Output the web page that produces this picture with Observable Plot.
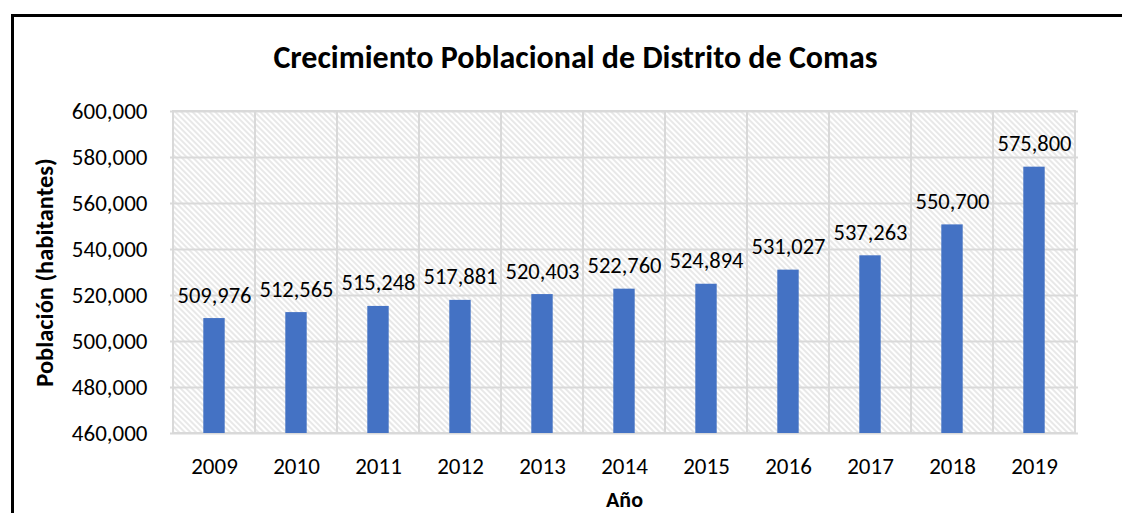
<!DOCTYPE html>
<html>
<head>
<meta charset="utf-8">
<script src="https://cdn.jsdelivr.net/npm/d3@7"></script>
<script src="https://cdn.jsdelivr.net/npm/@observablehq/plot@0.6"></script>
<style>
  html, body { margin: 0; padding: 0; background: #fff; overflow: hidden; }
  #wrap { position: relative; width: 1122px; height: 513px; }
  #border { position: absolute; left: 11px; top: 14px; width: 1200px; height: 600px;
            border-left: 3px solid #000; border-top: 3px solid #000; box-sizing: border-box; pointer-events: none; }
  #chart { position: absolute; left: 0; top: 0; }
</style>
</head>
<body>
<div id="wrap">
  <div id="chart"></div>
  <div id="border"></div>
</div>
<script>
const years = ["2009","2010","2011","2012","2013","2014","2015","2016","2017","2018","2019"];
const population = [509976, 512565, 515248, 517881, 520403, 522760, 524894, 531027, 537263, 550700, 575800];
const yTicks = [460000, 480000, 500000, 520000, 540000, 560000, 580000, 600000];
const titleText = "Crecimiento Poblacional de Distrito de Comas";
const yLabel = "Población (habitantes)";
const xLabel = "Año";

const data = years.map((y, i) => ({year: y, value: population[i]}));
const fmt = d3.format(",");
const font = "Carlito, Calibri, Lato, sans-serif";

const svg = Plot.plot({
  width: 1122,
  height: 513,
  marginLeft: 170,
  marginRight: 44,
  marginTop: 111,
  marginBottom: 80,
  style: {fontFamily: font, fontSize: "23px", color: "#000", background: "transparent"},
  x: {type: "band", domain: years, padding: 0, label: null},
  y: {domain: [yTicks[0], yTicks[yTicks.length - 1]], label: null},
  marks: [
    Plot.cell(years, {x: d => d, fill: "url(#hatch)", stroke: "#d9d9d9", strokeWidth: 2}),
    Plot.ruleY(yTicks, {stroke: "#d9d9d9", strokeWidth: 2}),
    Plot.barY(data, {x: "year", y1: yTicks[0], y2: "value", fill: "#4472C4", insetLeft: 30.3, insetRight: 30.3}),
    Plot.text(data, {x: "year", y: "value", text: d => fmt(d.value), dy: -16, lineAnchor: "bottom", fontSize: 22.5, fill: "#000"}),
    Plot.text([titleText], {text: d => d, frameAnchor: "top", textAnchor: "middle", dx: -49, dy: -54, lineAnchor: "middle", fontSize: 32, fontWeight: "bold", fill: "#000"}),
    Plot.text([yLabel], {text: d => d, frameAnchor: "left", textAnchor: "middle", dx: -125, rotate: -90, lineAnchor: "middle", fontSize: 24.5, fontWeight: "bold", fill: "#000"}),
    Plot.text([xLabel], {text: d => d, frameAnchor: "bottom", textAnchor: "middle", dy: 66, lineAnchor: "middle", fontSize: 22, fontWeight: "bold", fill: "#000"}),
    Plot.axisX({tickSize: 0, tickPadding: 24, label: null, fontSize: 23}),
    Plot.axisY({ticks: yTicks, tickFormat: fmt, tickSize: 0, tickPadding: 23, label: null, fontSize: 23})
  ]
});

svg.insertAdjacentHTML("afterbegin",
  '<defs><pattern id="hatch" patternUnits="userSpaceOnUse" width="4" height="4" patternTransform="rotate(-45)">' +
  '<rect width="4" height="4" fill="#ffffff"/>' +
  '<line x1="1" y1="0" x2="1" y2="4" stroke="#e6e6e6" stroke-width="1.8"/></pattern></defs>');

document.getElementById("chart").appendChild(svg);
</script>
</body>
</html>
